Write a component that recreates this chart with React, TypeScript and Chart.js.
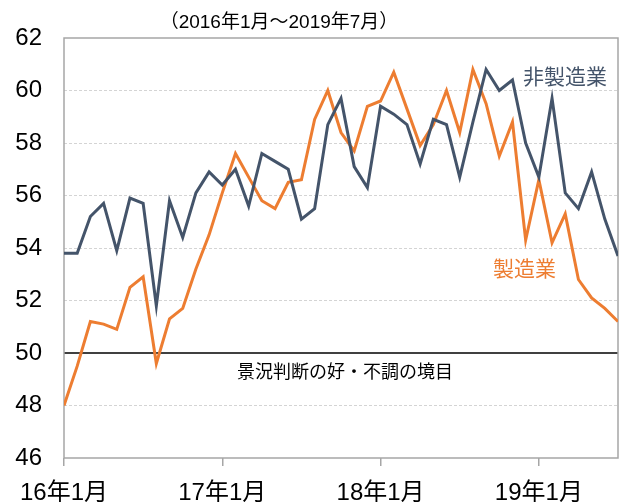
import React, { useEffect, useRef } from 'react';
import { Chart, registerables } from 'chart.js';

Chart.register(...registerables);

// 2016-01 .. 2019-07 (43 months)
const monthIndex: number[] = Array.from({ length: 43 }, (_, i) => i);
const yearTickIdx = [0, 12, 24, 36];
const yearTickLabels = ['16年1月', '17年1月', '18年1月', '19年1月'];
const yTicks = [46, 48, 50, 52, 54, 56, 58, 60, 62];

const nonManufacturing = [
  53.8, 53.8, 55.2, 55.7, 53.9, 55.9, 55.7, 51.8, 55.8, 54.4,
  56.1, 56.9, 56.4, 57.0, 55.6, 57.6, 57.3, 57.0, 55.1, 55.5,
  58.7, 59.7, 57.1, 56.3, 59.4, 59.1, 58.7, 57.2, 58.9, 58.7,
  56.7, 58.8, 60.8, 60.0, 60.4, 58.0, 56.7, 59.7, 56.1, 55.5,
  56.9, 55.1, 53.7,
];

const manufacturing = [
  48.0, 49.5, 51.2, 51.1, 50.9, 52.5, 52.9, 49.6, 51.3, 51.7,
  53.2, 54.5, 56.1, 57.6, 56.7, 55.8, 55.5, 56.5, 56.6, 58.9,
  60.0, 58.4, 57.7, 59.4, 59.6, 60.7, 59.3, 57.9, 58.7, 60.0,
  58.4, 60.8, 59.5, 57.5, 58.8, 54.3, 56.6, 54.2, 55.3, 52.8,
  52.1, 51.7, 51.2,
];

const titleText = '（2016年1月～2019年7月）';
const nonMfgLabel = '非製造業';
const mfgLabel = '製造業';
const boundaryLabel = '景況判断の好・不調の境目';
const boundaryValue = 50;

const NAVY = '#44546A';
const ORANGE = '#ED7D31';
const NUM_FONT = '"Liberation Sans", Arial, "Noto Sans CJK JP", sans-serif';
const CJK_FONT = '"Noto Sans CJK JP", "Liberation Sans", sans-serif';

const annotPlugin = {
  id: 'annot',
  beforeDatasetsDraw(chart: any) {
    const { ctx, chartArea, scales } = chart;
    const { left, right, top, bottom } = chartArea;
    ctx.save();
    const y50 = scales.y.getPixelForValue(boundaryValue);
    ctx.strokeStyle = '#000';
    ctx.lineWidth = 1.3;
    ctx.beginPath();
    ctx.moveTo(left, y50);
    ctx.lineTo(right, y50);
    ctx.stroke();
    ctx.strokeStyle = '#a6a6a6';
    ctx.lineWidth = 1.5;
    ctx.strokeRect(left, top, right - left, bottom - top);
    ctx.restore();
  },
  afterDraw(chart: any) {
    const { ctx } = chart;
    ctx.save();
    ctx.textBaseline = 'middle';
    ctx.fillStyle = '#000';
    ctx.textAlign = 'center';
    ctx.font = '19px ' + NUM_FONT;
    ctx.fillText(titleText, 279, 23);

    ctx.textAlign = 'left';
    ctx.fillStyle = NAVY;
    ctx.font = '21px ' + CJK_FONT;
    ctx.fillText(nonMfgLabel, 523, 76);

    ctx.fillStyle = ORANGE;
    ctx.font = '21px ' + CJK_FONT;
    ctx.fillText(mfgLabel, 493, 268);

    ctx.fillStyle = '#000';
    ctx.font = '18px ' + CJK_FONT;
    ctx.fillText(boundaryLabel, 237, 371);
    ctx.restore();
  },
};

export default function App() {
  const ref = useRef<HTMLCanvasElement | null>(null);

  useEffect(() => {
    if (!ref.current) return;
    const chart = new Chart(ref.current, {
      type: 'line',
      data: {
        datasets: [
          {
            label: nonMfgLabel,
            data: monthIndex.map((i) => ({ x: i, y: nonManufacturing[i] })),
            borderColor: NAVY,
            borderWidth: 3,
            pointRadius: 0,
            tension: 0,
          },
          {
            label: mfgLabel,
            data: monthIndex.map((i) => ({ x: i, y: manufacturing[i] })),
            borderColor: ORANGE,
            borderWidth: 3,
            pointRadius: 0,
            tension: 0,
          },
        ],
      },
      options: {
        responsive: false,
        animation: false,
        layout: { padding: { top: 38, right: 5, left: 0, bottom: 0 } },
        plugins: {
          legend: { display: false },
          tooltip: { enabled: false },
          title: { display: false },
        },
        scales: {
          x: {
            type: 'linear',
            min: 0,
            max: 42,
            afterBuildTicks: (s: any) => {
              s.ticks = yearTickIdx.map((v) => ({ value: v }));
            },
            afterFit: (s: any) => {
              s.height = 44;
            },
            grid: {
              drawOnChartArea: false,
              drawTicks: true,
              tickLength: 8,
              color: '#a6a6a6',
              lineWidth: 1.5,
            },
            border: { display: false },
            ticks: {
              callback: (v: any) => yearTickLabels[yearTickIdx.indexOf(Number(v))],
              font: { size: 24, family: NUM_FONT },
              color: '#000',
              padding: 13,
              maxRotation: 0,
              autoSkip: false,
            },
          },
          y: {
            min: 46,
            max: 62,
            afterBuildTicks: (s: any) => {
              s.ticks = yTicks.map((v) => ({ value: v }));
            },
            afterFit: (s: any) => {
              s.width = 64;
            },
            grid: {
              drawTicks: false,
              lineWidth: 1,
              color: (c: any) => {
                const v = c.tick ? c.tick.value : null;
                return v === 46 || v === 62 || v === boundaryValue ? 'rgba(0,0,0,0)' : '#d4d4d4';
              },
            },
            border: { display: false, dash: [3, 2] },
            ticks: {
              font: { size: 24, family: NUM_FONT },
              color: '#000',
              padding: 22,
            },
          },
        },
      } as any,
      plugins: [annotPlugin],
    });
    return () => chart.destroy();
  }, []);

  return (
    <canvas
      ref={ref}
      width={623}
      height={502}
      style={{ position: 'fixed', left: 0, top: 0, display: 'block' }}
    />
  );
}
